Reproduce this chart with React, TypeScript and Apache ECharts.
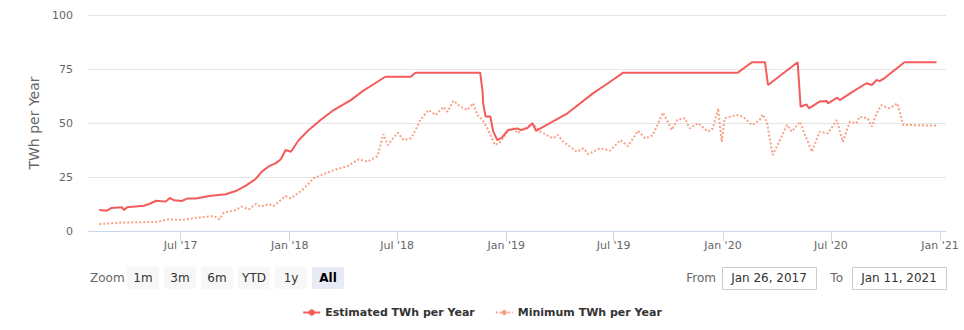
import React, { useEffect, useRef } from "react";
import * as echarts from "echarts";

const estDates = [
  "2017-02-14","2017-02-27","2017-03-06","2017-03-24","2017-03-28","2017-04-02","2017-04-30","2017-05-09",
  "2017-05-21","2017-06-06","2017-06-13","2017-06-20","2017-07-03","2017-07-12","2017-07-27","2017-08-18",
  "2017-09-15","2017-10-02","2017-10-19","2017-11-05","2017-11-15","2017-11-27","2017-12-08","2017-12-17",
  "2017-12-25","2018-01-03","2018-01-16","2018-02-02","2018-02-05","2018-02-22","2018-03-16","2018-04-14",
  "2018-05-05","2018-05-29","2018-06-11","2018-07-24","2018-08-01","2018-11-18","2018-11-22","2018-11-23",
  "2018-11-27","2018-12-05","2018-12-10","2018-12-17","2018-12-25","2019-01-04","2019-01-19","2019-01-25",
  "2019-02-05","2019-02-14","2019-02-20","2019-04-14","2019-05-27","2019-06-25","2019-07-17","2020-01-26",
  "2020-02-19","2020-03-12","2020-03-17","2020-05-06","2020-05-11","2020-05-21","2020-05-25","2020-06-12",
  "2020-06-24","2020-06-26","2020-07-12","2020-07-16","2020-08-07","2020-08-30","2020-09-08","2020-09-16",
  "2020-09-21","2020-09-29","2020-11-02","2020-12-26",
];
const estValues = [
  9.7, 9.4, 10.6, 11.0, 9.7, 11.0, 11.7, 12.5,
  14.0, 13.6, 15.3, 14.2, 13.9, 15.0, 15.0, 16.2,
  17.0, 18.5, 21.0, 24.2, 27.5, 30.0, 31.3, 33.2,
  37.5, 36.7, 42.0, 46.8, 47.5, 51.4, 56.0, 60.6,
  65.0, 69.1, 71.4, 71.4, 73.3, 73.3, 64.5, 59.0,
  53.0, 53.0, 46.0, 42.0, 43.4, 46.8, 47.5, 46.8,
  47.5, 49.9, 46.4, 54.5, 63.7, 69.1, 73.3, 73.3,
  78.1, 78.1, 67.6, 78.1, 57.5, 58.6, 56.8, 59.9,
  60.2, 59.1, 61.7, 60.6, 64.5, 68.4, 67.6, 69.9,
  69.4, 70.7, 78.1, 78.1,
];

const minDates = [
  "2017-02-14","2017-03-24","2017-05-21","2017-06-11","2017-07-03","2017-08-01","2017-08-26","2017-09-05",
  "2017-09-12","2017-10-02","2017-10-12","2017-10-24","2017-11-05","2017-11-13","2017-11-27","2017-12-05",
  "2017-12-25","2018-01-03","2018-01-21","2018-02-02","2018-02-10","2018-03-16","2018-04-09","2018-04-27",
  "2018-05-12","2018-05-29","2018-06-08","2018-06-15","2018-07-02","2018-07-12","2018-07-24","2018-08-01",
  "2018-08-09","2018-08-23","2018-09-04","2018-09-17","2018-09-24","2018-10-04","2018-10-16","2018-10-27",
  "2018-11-06","2018-11-13","2018-11-22","2018-11-30","2018-12-13","2018-12-22","2019-01-03","2019-01-13",
  "2019-01-20","2019-01-28","2019-02-14","2019-02-27","2019-03-21","2019-03-29","2019-04-07","2019-04-30",
  "2019-05-11","2019-05-19","2019-06-08","2019-06-25","2019-07-12","2019-07-25","2019-08-11","2019-08-23",
  "2019-09-05","2019-09-22","2019-10-07","2019-10-16","2019-10-29","2019-11-06","2019-11-20","2019-12-07",
  "2019-12-15","2019-12-24","2019-12-30","2020-01-04","2020-01-13","2020-01-25","2020-02-04","2020-02-19",
  "2020-03-03","2020-03-08","2020-03-15","2020-03-25","2020-04-09","2020-04-18","2020-04-26","2020-05-10",
  "2020-05-15","2020-05-30","2020-06-12","2020-06-26","2020-07-11","2020-07-21","2020-08-02","2020-08-13",
  "2020-08-18","2020-09-01","2020-09-08","2020-09-16","2020-09-24","2020-10-08","2020-10-21","2020-10-31",
  "2020-12-26",
];
const minValues = [
  3.2, 3.9, 4.2, 5.4, 5.1, 6.3, 6.9, 5.4,
  8.5, 9.7, 11.3, 10.0, 12.5, 11.3, 12.5, 11.6,
  16.2, 15.1, 18.7, 22.0, 24.4, 28.2, 30.1, 33.2,
  32.1, 34.7, 44.9, 39.8, 45.5, 42.1, 42.9, 46.8,
  51.4, 56.0, 53.7, 57.5, 55.2, 60.3, 57.5, 56.0,
  59.1, 53.7, 51.4, 47.5, 39.8, 41.3, 46.0, 47.5,
  45.2, 46.8, 49.9, 46.0, 42.9, 44.4, 41.3, 36.7,
  38.3, 35.6, 38.3, 37.2, 42.1, 39.3, 46.4, 42.9,
  44.4, 54.8, 46.8, 51.4, 52.2, 47.5, 49.9, 46.0,
  47.5, 56.8, 41.3, 52.2, 52.9, 53.7, 52.9, 49.1,
  51.4, 54.0, 50.6, 35.2, 43.7, 49.1, 46.0, 50.6,
  46.8, 36.7, 46.0, 45.2, 51.4, 41.3, 50.6, 49.9,
  52.9, 52.2, 48.3, 54.5, 58.3, 56.8, 59.1, 49.1,
  48.8,
];

const tickDates = ["2017-07-01","2018-01-01","2018-07-01","2019-01-01","2019-07-01","2020-01-01","2020-07-01","2021-01-01"];
const yTicks = [0, 25, 50, 75, 100];
const rangeButtons = ["1m", "3m", "6m", "YTD", "1y", "All"];
const fromDate = "Jan 26, 2017";
const toDate = "Jan 11, 2021";
const axisStart = "2017-01-26";
const axisEnd = "2021-01-11";

const MONTHS = ["Jan","Feb","Mar","Apr","May","Jun","Jul","Aug","Sep","Oct","Nov","Dec"];
const ts = (d: string) => Date.parse(d + "T00:00:00Z");
const FONT = "DejaVu Sans, Verdana, sans-serif";

export default function App() {
  const ref = useRef<HTMLDivElement>(null);
  useEffect(() => {
    if (!ref.current) return;
    const chart = echarts.init(ref.current, undefined, { renderer: "svg" });
    const btnGraphics: any[] = [];
    const bx0 = 127, bw = 32, gap = 5;
    rangeButtons.forEach((b, i) => {
      const sel = b === "All";
      btnGraphics.push({
        type: "rect",
        shape: { x: bx0 + i * (bw + gap), y: 267, width: bw, height: 22, r: 2 },
        style: { fill: sel ? "#e6ebf5" : "#f7f7f7" },
      });
      btnGraphics.push({
        type: "text",
        x: bx0 + i * (bw + gap) + bw / 2,
        y: 278,
        style: {
          text: b, fill: sel ? "#000000" : "#333333", font: `${sel ? "bold " : ""}12px ${FONT}`,
          align: "center", verticalAlign: "middle",
        },
      });
    });
    const ticks = tickDates.map(ts);
    chart.setOption({
      animation: false,
      textStyle: { fontFamily: FONT },
      grid: { left: 88, right: 18, top: 15, height: 216 },
      legend: {
        bottom: 7,
        left: "center",
        itemWidth: 17,
        itemHeight: 8,
        itemGap: 20,
        textStyle: { color: "#333333", fontWeight: "bold", fontSize: 11, fontFamily: FONT },
        data: ["Estimated TWh per Year", "Minimum TWh per Year"],
      },
      xAxis: {
        type: "value",
        min: ts(axisStart),
        max: ts(axisEnd),
        axisLine: { lineStyle: { color: "#ccd6eb" } },
        axisTick: { show: true, length: 10, lineStyle: { color: "#ccd6eb" }, customValues: ticks },
        axisLabel: {
          color: "#666666", fontSize: 11, margin: 9,
          customValues: ticks,
          formatter: (v: number) => {
            const d = new Date(v);
            return `${MONTHS[d.getUTCMonth()]} '${String(d.getUTCFullYear()).slice(2)}`;
          },
        },
        splitLine: { show: false },
      },
      yAxis: {
        type: "value",
        min: yTicks[0],
        max: yTicks[yTicks.length - 1],
        interval: 25,
        name: "TWh per Year",
        nameLocation: "middle",
        nameGap: 46,
        nameTextStyle: { color: "#666666", fontSize: 14 },
        axisLabel: { color: "#666666", fontSize: 11, margin: 15 },
        splitLine: { lineStyle: { color: "#e6e6e6" } },
        axisLine: { show: false },
        axisTick: { show: false },
      },
      series: [
        {
          name: "Estimated TWh per Year",
          type: "line",
          data: estDates.map((d, i) => [ts(d), estValues[i]]),
          showSymbol: false,
          symbol: "circle",
          symbolSize: 8,
          color: "#f45b5b",
          lineStyle: { width: 2, color: "#f45b5b" },
          z: 3,
        },
        {
          name: "Minimum TWh per Year",
          type: "line",
          data: minDates.map((d, i) => [ts(d), minValues[i]]),
          showSymbol: false,
          symbol: "diamond",
          symbolSize: 8,
          color: "#f9a087",
          lineStyle: { width: 2, color: "#f9a087", type: [2, 2] },
          z: 2,
        },
      ],
      graphic: [
        {
          type: "text", x: 90, y: 278,
          style: { text: "Zoom", fill: "#666666", font: `12px ${FONT}`, verticalAlign: "middle" },
        },
        ...btnGraphics,
        {
          type: "text", x: 716, y: 278,
          style: { text: "From", fill: "#666666", font: `12px ${FONT}`, align: "right", verticalAlign: "middle" },
        },
        {
          type: "rect", shape: { x: 722.5, y: 267.5, width: 94, height: 22 },
          style: { fill: "#ffffff", stroke: "#cccccc", lineWidth: 1 },
        },
        {
          type: "text", x: 769, y: 278,
          style: { text: fromDate, fill: "#333333", font: `12px ${FONT}`, align: "center", verticalAlign: "middle" },
        },
        {
          type: "text", x: 843, y: 278,
          style: { text: "To", fill: "#666666", font: `12px ${FONT}`, align: "right", verticalAlign: "middle" },
        },
        {
          type: "rect", shape: { x: 852.5, y: 267.5, width: 94, height: 22 },
          style: { fill: "#ffffff", stroke: "#cccccc", lineWidth: 1 },
        },
        {
          type: "text", x: 899, y: 278,
          style: { text: toDate, fill: "#333333", font: `12px ${FONT}`, align: "center", verticalAlign: "middle" },
        },
      ],
    });
    return () => chart.dispose();
  }, []);
  return <div ref={ref} style={{ position: "absolute", left: 0, top: 0, width: 964, height: 330 }} />;
}
